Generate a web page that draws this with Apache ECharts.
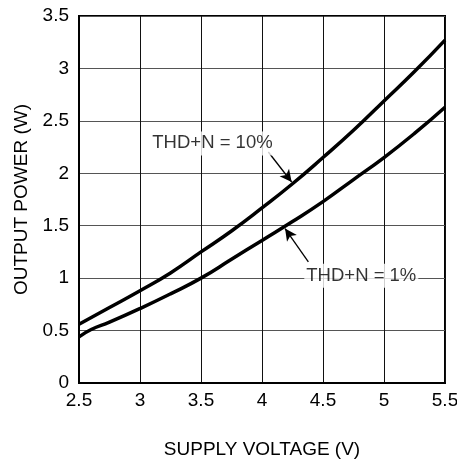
<!DOCTYPE html>
<html>
<head>
<meta charset="utf-8">
<script src="https://cdn.jsdelivr.net/npm/echarts@6/dist/echarts.min.js"></script>
<style>
html,body{margin:0;padding:0;background:#fff;}
#chart{width:457px;height:460px;}
</style>
</head>
<body>
<div id="chart"></div>
<script>
// Supply voltage (V) and output power (W)
const thd10X = [2.5, 2.75, 3, 3.25, 3.5, 3.75, 4, 4.25, 4.5, 4.75, 5, 5.25, 5.5];
const thd10Y = [0.56, 0.72, 0.88, 1.05, 1.25, 1.45, 1.67, 1.90, 2.15, 2.41, 2.69, 2.97, 3.27];
const thd1X = [2.5, 2.6, 2.75, 3, 3.25, 3.5, 3.75, 4, 4.25, 4.5, 4.75, 5, 5.25, 5.5];
const thd1Y = [0.44, 0.51, 0.58, 0.71, 0.85, 1.0, 1.18, 1.36, 1.54, 1.73, 1.94, 2.15, 2.38, 2.63];
const xTicks = [2.5, 3, 3.5, 4, 4.5, 5, 5.5];
const yTicks = [0, 0.5, 1, 1.5, 2, 2.5, 3, 3.5];
// annotation labels: [x, y, text]
const labels = [[3.594, 2.285, 'THD+N = 10%'], [4.814, 1.022, 'THD+N = 1%']];
// arrows: [[tailX, tailY], [tipX, tipY]]
const arrows = [[[4.052, 2.203], [4.243, 1.917]], [[4.38, 1.155], [4.189, 1.473]]];

const FONT = "Arial, 'Liberation Sans', sans-serif";
const pairs = (xs, ys) => xs.map((x, i) => [x, ys[i]]);

const chart = echarts.init(document.getElementById('chart'));
chart.setOption({
  animation: false,
  backgroundColor: '#fff',
  grid: { left: 79, right: 12, top: 16, bottom: 77, containLabel: false, outerBoundsMode: 'none',
    show: true, borderColor: '#000', borderWidth: 2 },
  xAxis: {
    type: 'value', min: xTicks[0], max: xTicks[xTicks.length - 1], interval: 0.5,
    name: 'SUPPLY VOLTAGE (V)', nameLocation: 'middle', nameGap: 57,
    nameTextStyle: { fontSize: 19, color: '#000', fontFamily: FONT },
    axisLine: { show: true, lineStyle: { color: '#000', width: 2 } },
    axisTick: { show: false },
    axisLabel: { fontSize: 19, color: '#000', fontFamily: FONT, margin: 8,
      formatter: v => String(v) },
    splitLine: { show: true, lineStyle: { color: '#111', width: 1 } }
  },
  yAxis: {
    type: 'value', min: yTicks[0], max: yTicks[yTicks.length - 1], interval: 0.5,
    name: 'OUTPUT POWER (W)', nameLocation: 'middle', nameGap: 48,
    nameTextStyle: { fontSize: 19, color: '#000', fontFamily: FONT },
    axisLine: { show: true, lineStyle: { color: '#000', width: 2 } },
    axisTick: { show: false },
    axisLabel: { fontSize: 19, color: '#000', fontFamily: FONT, margin: 10,
      formatter: v => String(v) },
    splitLine: { show: true, lineStyle: { color: '#555', width: 1 } }
  },
  series: [
    {
      type: 'line', name: 'THD+N = 10%', data: pairs(thd10X, thd10Y), smooth: 0.5,
      showSymbol: false, lineStyle: { color: '#000', width: 3.5 },
      markLine: {
        silent: true, symbol: ['none', 'arrow'], symbolSize: [9, 12],
        label: { show: false },
        lineStyle: { color: '#000', width: 1.3, type: 'solid' },
        data: arrows.map(a => [{ coord: a[0] }, { coord: a[1] }])
      }
    },
    {
      type: 'line', name: 'THD+N = 1%', data: pairs(thd1X, thd1Y), smooth: 0.5,
      showSymbol: false, lineStyle: { color: '#000', width: 3.5 }
    },
    {
      type: 'scatter', data: labels, symbolSize: 0, silent: true, z: 5,
      label: {
        show: true, position: 'inside', formatter: p => p.value[2],
        fontSize: 18.5, color: '#000', fontFamily: FONT,
        backgroundColor: '#fff', padding: [3, 2, 2, 2]
      }
    }
  ]
});
</script>
</body>
</html>
